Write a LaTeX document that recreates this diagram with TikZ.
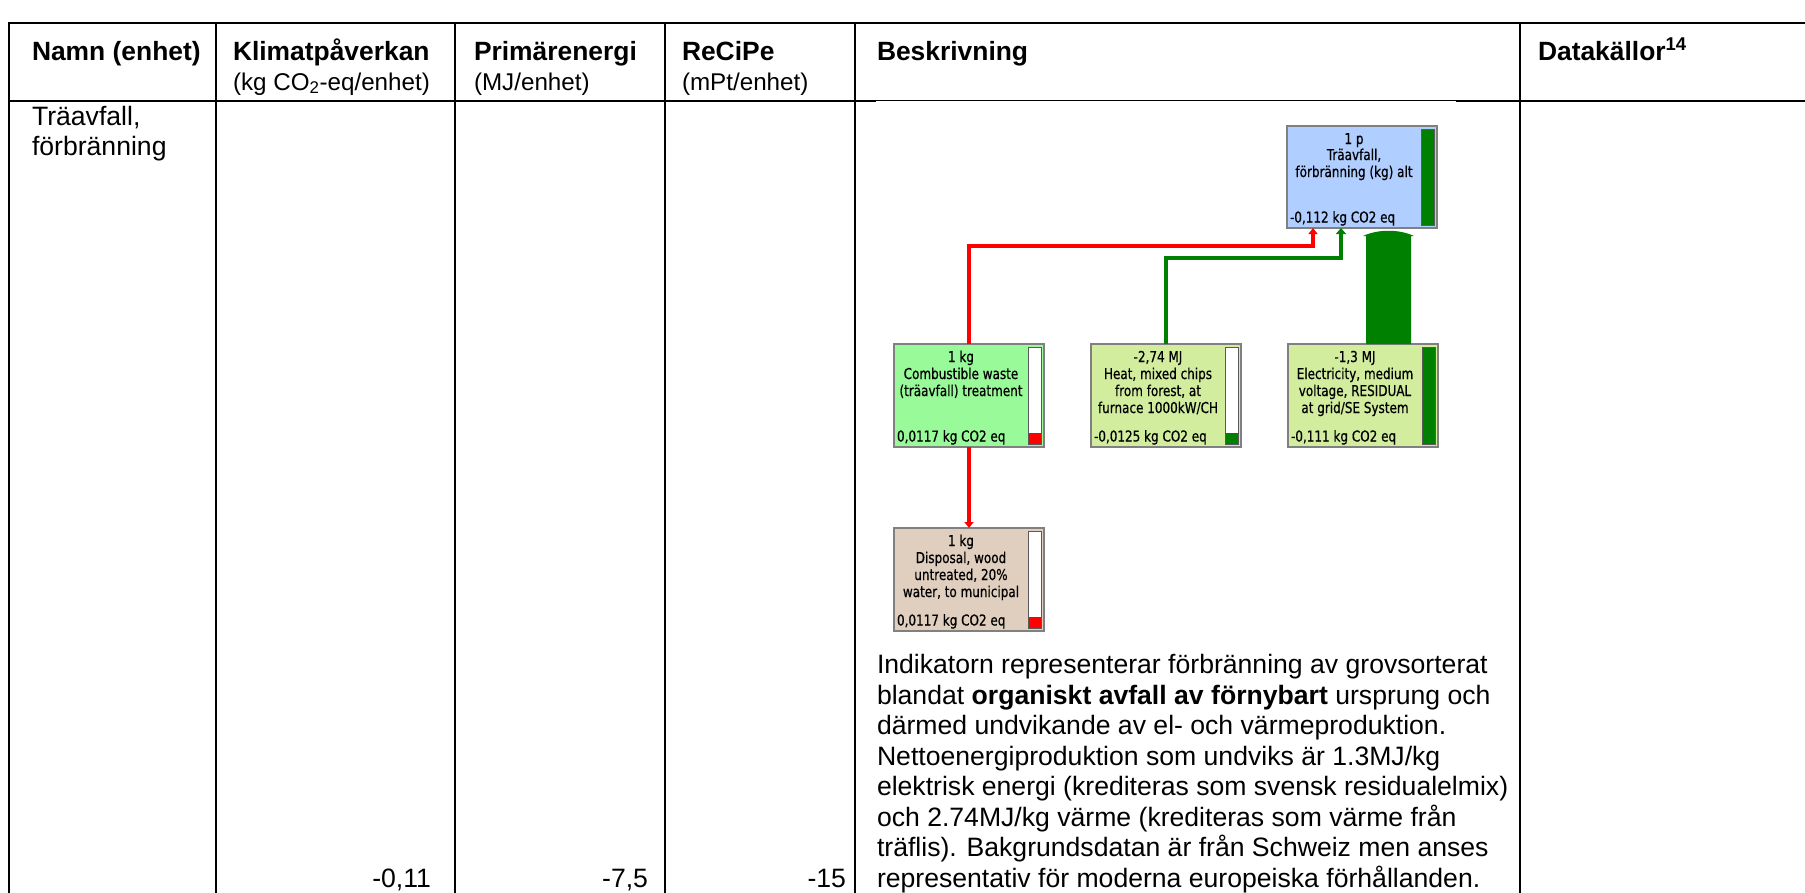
\documentclass[tikz,border=0pt]{standalone}
\usepackage{fontspec}
\setmainfont{Liberation Sans}
\newfontfamily\lcafont[FakeStretch=0.8,FakeBold=0.6]{DejaVu Sans}
\usetikzlibrary{arrows.meta,calc}

\definecolor{procblue}{RGB}{176,206,255}
\definecolor{procgreen}{RGB}{152,250,152}
\definecolor{procyell}{RGB}{210,237,158}
\definecolor{proctan}{RGB}{224,206,190}
\definecolor{flowred}{RGB}{255,0,0}
\definecolor{flowgreen}{RGB}{0,128,0}
\definecolor{boxedge}{RGB}{128,128,128}

\begin{document}
\begin{tikzpicture}[x=1pt,y=-1pt,
  every node/.style={inner sep=0pt, outer sep=0pt},
  tabline/.style={line width=2.6pt, line cap=rect},
  hdr/.style={anchor=base west, font=\fontsize{26.4}{30.5}\selectfont\bfseries},
  subhdr/.style={anchor=base west, font=\fontsize{24.2}{28}\selectfont},
  body/.style={anchor=base west, font=\fontsize{26.6}{30.5}\selectfont},
  num/.style={anchor=base east, font=\fontsize{26.6}{30.5}\selectfont},
  procbox/.style={draw=boxedge, line width=1.3pt, minimum width=150pt, minimum height=103pt, anchor=north west},
  lcatxt/.style={anchor=base, font=\lcafont\fontsize{15}{17}\selectfont},
  lcaval/.style={anchor=base west, font=\lcafont\fontsize{15}{17}\selectfont},
  barbox/.style={draw=boxedge!70!black, line width=1pt},
  redflow/.style={draw=flowred, line width=3.5pt, -{Triangle[width=9pt,length=6pt]}},
  greenflow/.style={draw=flowgreen, line width=4pt, -{Triangle[width=10pt,length=6pt]}},
]
\useasboundingbox (0,0) rectangle (1805,892);

% ---- table grid ----
\draw[tabline] (9,23) -- (1812,23);
\draw[tabline] (9,101) -- (1812,101);
\foreach \cx in {9,216,455,665,855,1520}
  \draw[tabline] (\cx,23) -- (\cx,898);
% the embedded network picture covers the lower half of the rule
\fill[white] (876,101.3) rectangle (1456,104);

% ---- header row ----
\node[hdr] (h1) at (32,60) {Namn (enhet)};
\node[hdr] (h2) at (233,60) {Klimatpåverkan};
\node[subhdr] (h2s) at (233,90) {(kg CO\textsubscript{2}-eq/enhet)};
\node[hdr] (h3) at (474,60) {Primärenergi};
\node[subhdr] (h3s) at (474,90) {(MJ/enhet)};
\node[hdr] (h4) at (682,60) {ReCiPe};
\node[subhdr] (h4s) at (682,90) {(mPt/enhet)};
\node[hdr] (h5) at (877,60) {Beskrivning};
\node[hdr] (h6) at (1538,60) {Datakällor\textsuperscript{14}};

% ---- data row ----
\node[body] (r1) at (32,125) {Träavfall,};
\node[body] (r2) at (32,155) {förbränning};
\node[num] (v1) at (431,887) {-0,11};
\node[num] (v2) at (648,887) {-7,5};
\node[num] (v3) at (846,887) {-15};

% ---- process network ----
\node[procbox, fill=procblue, minimum height=102pt] (top) at (1287,126) {};
\node[procbox, fill=procgreen] (comb) at (894,344) {};
\node[procbox, fill=procyell] (heat) at (1091,344) {};
\node[procbox, fill=procyell] (elec) at (1288,344) {};
\node[procbox, fill=proctan] (disp) at (894,528) {};

% score bars
\fill[white] ($(comb.north east)+(-16,3)$) rectangle ($(comb.south east)+(-3,-3)$);
\fill[flowred] ($(comb.south east)+(-16,-14)$) rectangle ($(comb.south east)+(-3,-3)$);
\fill[white] ($(disp.north east)+(-16,3)$) rectangle ($(disp.south east)+(-3,-3)$);
\fill[flowred] ($(disp.south east)+(-16,-14)$) rectangle ($(disp.south east)+(-3,-3)$);
\fill[white] ($(heat.north east)+(-16,3)$) rectangle ($(heat.south east)+(-3,-3)$);
\fill[flowgreen] ($(heat.south east)+(-16,-14)$) rectangle ($(heat.south east)+(-3,-3)$);
\fill[flowgreen] ($(elec.north east)+(-16,3)$) rectangle ($(elec.south east)+(-3,-3)$);
\fill[flowgreen] ($(top.north east)+(-16,3)$) rectangle ($(top.south east)+(-3,-3)$);
\foreach \b in {top,comb,heat,elec,disp}
  \draw[barbox] ($(\b.north east)+(-16,3)$) rectangle ($(\b.south east)+(-3,-3)$);

% process labels
\node[lcatxt] (topa) at ($(top.north west)+(67,18)$) {1 p};
\node[lcatxt] (topb) at ($(top.north west)+(67,34)$) {Träavfall,};
\node[lcatxt] (topc) at ($(top.north west)+(67,51)$) {förbränning (kg) alt};
\node[lcaval] (topv) at ($(top.south west)+(3,-5.5)$) {-0,112 kg CO2 eq};

\node[lcatxt] (comba) at ($(comb.north west)+(67,18)$) {1 kg};
\node[lcatxt] (combb) at ($(comb.north west)+(67,35)$) {Combustible waste};
\node[lcatxt] (combc) at ($(comb.north west)+(67,52)$) {(träavfall) treatment};
\node[lcaval] (combv) at ($(comb.south west)+(3,-5.5)$) {0,0117 kg CO2 eq};

\node[lcatxt] (heata) at ($(heat.north west)+(67,18)$) {-2,74 MJ};
\node[lcatxt] (heatb) at ($(heat.north west)+(67,35)$) {Heat, mixed chips};
\node[lcatxt] (heatc) at ($(heat.north west)+(67,52)$) {from forest, at};
\node[lcatxt] (heatd) at ($(heat.north west)+(67,69)$) {furnace 1000kW/CH};
\node[lcaval] (heatv) at ($(heat.south west)+(3,-5.5)$) {-0,0125 kg CO2 eq};

\node[lcatxt] (eleca) at ($(elec.north west)+(67,18)$) {-1,3 MJ};
\node[lcatxt] (elecb) at ($(elec.north west)+(67,35)$) {Electricity, medium};
\node[lcatxt] (elecc) at ($(elec.north west)+(67,52)$) {voltage, RESIDUAL};
\node[lcatxt] (elecd) at ($(elec.north west)+(67,69)$) {at grid/SE System};
\node[lcaval] (elecv) at ($(elec.south west)+(3,-5.5)$) {-0,111 kg CO2 eq};

\node[lcatxt] (dispa) at ($(disp.north west)+(67,18)$) {1 kg};
\node[lcatxt] (dispb) at ($(disp.north west)+(67,35)$) {Disposal, wood};
\node[lcatxt] (dispc) at ($(disp.north west)+(67,52)$) {untreated, 20\%};
\node[lcatxt] (dispd) at ($(disp.north west)+(67,69)$) {water, to municipal};
\node[lcaval] (dispv) at ($(disp.south west)+(3,-5.5)$) {0,0117 kg CO2 eq};

% flows
\coordinate (rin) at ($(top.south west)+(26,0)$);
\coordinate (rbend) at ($(top.south west)+(26,18)$);
\coordinate (gin) at ($(top.south west)+(54,0)$);
\coordinate (gbend) at ($(top.south west)+(54,30)$);
\draw[redflow] (comb.north) |- (rbend) -- (rin);
\draw[greenflow] (heat.north) |- (gbend) -- (gin);
\draw[redflow] (comb.south) -- (disp.north);

\coordinate (ta) at ($(elec.north west)+(78,0)$);
\coordinate (tb) at ($(elec.north west)+(123,0)$);
\fill[flowgreen] (ta) -- ($(ta |- top.south)+(0,8)$) -- ($(ta |- top.south)+(-3,8)$)
  .. controls ($(ta |- top.south)+(12,1)$) and ($(tb |- top.south)+(-12,1)$) ..
  ($(tb |- top.south)+(3,8)$) -- ($(tb |- top.south)+(0,8)$) -- (tb) -- cycle;

% ---- description text ----
\node[body] (p1) at (877,673.5) {Indikatorn representerar förbränning av grovsorterat};
\node[body] (p2) at (877,704) {blandat \textbf{organiskt avfall av förnybart} ursprung och};
\node[body] (p3) at (877,734.5) {därmed undvikande av el- och värmeproduktion.};
\node[body] (p4) at (877,765) {Nettoenergiproduktion som undviks är 1.3MJ/kg};
\node[body] (p5) at (877,795.5) {elektrisk energi (krediteras som svensk residualelmix)};
\node[body] (p6) at (877,826) {och 2.74MJ/kg värme (krediteras som värme från};
\node[body] (p7) at (877,856.5) {träflis). Bakgrundsdatan är från Schweiz men anses};
\node[body] (p8) at (877,887) {representativ för moderna europeiska förhållanden.};
\end{tikzpicture}
\end{document}
